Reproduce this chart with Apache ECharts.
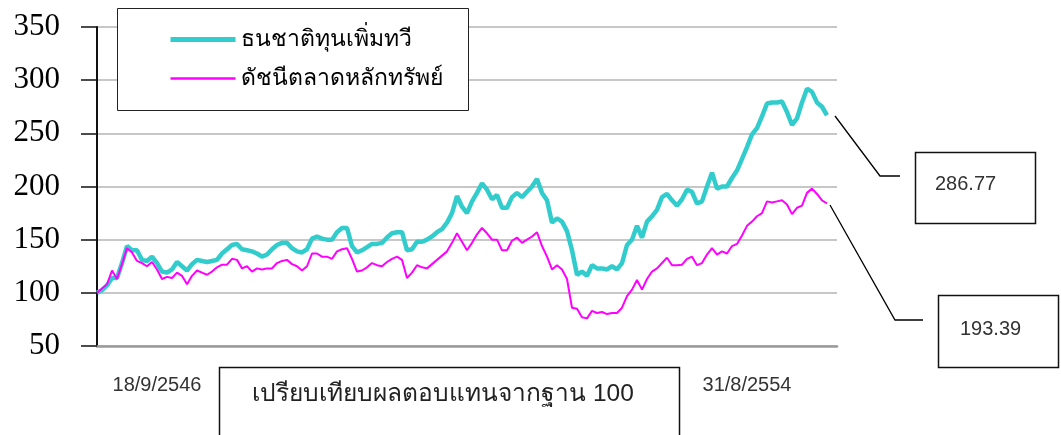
<!DOCTYPE html>
<html>
<head>
<meta charset="utf-8">
<script src="https://cdn.jsdelivr.net/npm/echarts@6/dist/echarts.min.js"></script>
<style>
  html, body { margin: 0; padding: 0; background: #fff; }
  #chart { width: 1061px; height: 435px; }
</style>
</head>
<body>
<div id="chart"></div>
<script>
// กองทุน ธนชาติทุนเพิ่มทวี เทียบกับดัชนีตลาดหลักทรัพย์ (ฐาน 100)
const fundName = 'ธนชาติทุนเพิ่มทวี'
const indexName = 'ดัชนีตลาดหลักทรัพย์'

const fundValues = [
  100, 102.5, 107, 114, 114, 128, 144, 140, 140, 131, 130, 134, 128, 120, 119, 122, 129, 125, 121, 127,
  131, 130, 129, 130, 131, 137, 141, 145, 146, 141, 140, 139, 137, 134, 136, 141, 145, 147, 147, 142,
  139, 138, 141, 151, 153, 151, 150, 150, 157, 161,
  161, 144, 138, 140, 143, 146, 146, 147, 152, 156, 157, 157, 140, 141, 148, 148, 150, 153, 157, 160,
  166, 175, 191, 181, 175, 186, 194, 203, 197, 188, 192, 180, 180, 190, 194, 190, 195, 200, 207, 194,
  187, 166, 170, 167, 158, 140, 117, 120, 116,
  126, 123, 123, 122, 125, 122, 128, 145, 150, 163, 152, 167, 172, 178, 190, 193, 187, 182, 188, 197,
  195, 184, 186, 200, 213, 198, 200, 200, 208, 215, 226, 237, 249, 255, 266, 278, 279, 279, 280, 270,
  258, 264, 279, 292, 289, 279, 275, 267
]

const indexValues = [
  100, 104, 108, 121, 113, 127, 142, 138, 130, 128, 125, 129, 122, 113, 115, 114, 119, 116, 108, 116,
  121, 119, 117, 120, 124, 126.5, 126.5, 132, 131, 123, 125, 120, 123, 122, 123, 123, 128, 130, 131, 127,
  125, 121, 125, 137, 137, 134, 134, 132, 139, 141,
  142, 132, 120, 121, 124, 128, 126, 125, 129, 132, 134, 131, 114, 119, 126, 124, 123, 127, 131, 135,
  139, 147, 156, 148, 140, 147, 155, 161, 156, 150, 150, 140, 140, 149, 152, 147, 150, 153, 157, 144,
  134, 122, 126, 122, 113, 86, 85, 77, 76,
  83, 81, 82, 80, 81, 81, 86, 97, 103, 112, 103, 113, 120, 123, 128, 133, 126, 126, 126.5, 132,
  134, 126, 128, 136, 142, 136, 139, 137, 144, 146, 154, 163, 167, 172, 175, 186, 185, 186, 187, 183,
  174, 180, 182, 194, 198, 193, 187, 184
]

const yTicks = [50, 100, 150, 200, 250, 300, 350]
const dateLabels = ['18/9/2546', '31/8/2554']
const dateLabelIndex = [12, 130]
const endValues = ['286.77', '193.39']
const footnote = 'เปรียบเทียบผลตอบแทนจากฐาน 100'

// แกน x: จุดข้อมูล + ช่องว่างท้ายกราฟอีก 2 ช่อง
const categories = []
for (let i = 0; i < fundValues.length + 2; i++) {
  const k = dateLabelIndex.indexOf(i)
  categories.push(k >= 0 ? dateLabels[k] : String(i))
}

const chart = echarts.init(document.getElementById('chart'))

chart.setOption({
  animation: false,
  backgroundColor: '#fff',
  grid: { left: 97, right: 224, top: 27, bottom: 89, containLabel: false },
  legend: {
    orient: 'vertical',
    left: 163,
    top: 23,
    itemWidth: 65,
    itemHeight: 2,
    itemGap: 16,
    itemStyle: { opacity: 0 },
    textStyle: { fontFamily: 'Liberation Serif, serif', fontSize: 23, color: '#000' },
    data: [
      { name: fundName, lineStyle: { width: 5 } },
      { name: indexName, lineStyle: { width: 2.5 } }
    ]
  },
  xAxis: {
    type: 'category',
    boundaryGap: false,
    data: categories,
    axisLine: { lineStyle: { color: '#9a9a9a', width: 2.5 } },
    axisTick: { show: false },
    splitLine: { show: false },
    axisLabel: {
      interval: (idx) => dateLabelIndex.indexOf(idx) >= 0,
      margin: 29,
      fontFamily: 'Liberation Sans, Arial, sans-serif',
      fontSize: 20,
      color: '#333'
    }
  },
  yAxis: {
    type: 'value',
    min: yTicks[0],
    max: yTicks[yTicks.length - 1],
    interval: 50,
    axisLine: { show: true, lineStyle: { color: '#111', width: 2 } },
    axisTick: { show: true, length: 16, lineStyle: { color: '#111', width: 1.5 } },
    axisLabel: {
      margin: 37,
      fontFamily: 'Liberation Serif, Times New Roman, serif',
      fontSize: 31,
      color: '#000'
    },
    splitLine: { lineStyle: { color: '#b4b4b4', width: 1.5 } }
  },
  series: [
    {
      name: fundName,
      type: 'line',
      data: fundValues,
      symbol: 'none',
      lineStyle: { color: '#33CCCC', width: 4.5 },
      itemStyle: { color: '#33CCCC' },
      z: 2
    },
    {
      name: indexName,
      type: 'line',
      data: indexValues,
      symbol: 'none',
      lineStyle: { color: '#FF00FF', width: 2 },
      itemStyle: { color: '#FF00FF' },
      z: 3
    }
  ],
  graphic: [
    // กรอบคำอธิบาย
    { type: 'rect', shape: { x: 117.5, y: 8.5, width: 351, height: 102 },
      style: { fill: '#fff', stroke: '#222', lineWidth: 1 }, z: 1 },
    // เส้นชี้ค่าล่าสุด
    { type: 'polyline', shape: { points: [[835, 116], [880, 176], [900, 176]] },
      style: { stroke: '#000', lineWidth: 1.3, fill: null } },
    { type: 'rect', shape: { x: 915.5, y: 152.5, width: 120, height: 71 },
      style: { fill: '#fff', stroke: '#111', lineWidth: 1.5 } },
    { type: 'text', x: 935, y: 184,
      style: { text: endValues[0], font: '20px Liberation Sans, Arial, sans-serif', fill: '#333',
        textVerticalAlign: 'middle' } },
    { type: 'polyline', shape: { points: [[830, 205], [895, 320], [923, 320]] },
      style: { stroke: '#000', lineWidth: 1.3, fill: null } },
    { type: 'rect', shape: { x: 938.5, y: 295.5, width: 120, height: 72 },
      style: { fill: '#fff', stroke: '#111', lineWidth: 1.5 } },
    { type: 'text', x: 960, y: 329,
      style: { text: endValues[1], font: '20px Liberation Sans, Arial, sans-serif', fill: '#333',
        textVerticalAlign: 'middle' } },
    // กรอบข้อความด้านล่าง
    { type: 'rect', shape: { x: 219.5, y: 367.5, width: 460, height: 80 },
      style: { fill: '#fff', stroke: '#111', lineWidth: 1.5 } },
    { type: 'text', x: 443, y: 394,
      style: { text: footnote, font: '24.5px Liberation Sans, Tahoma, sans-serif', fill: '#222',
        textAlign: 'center', textVerticalAlign: 'middle' } }
  ]
})
</script>
</body>
</html>
